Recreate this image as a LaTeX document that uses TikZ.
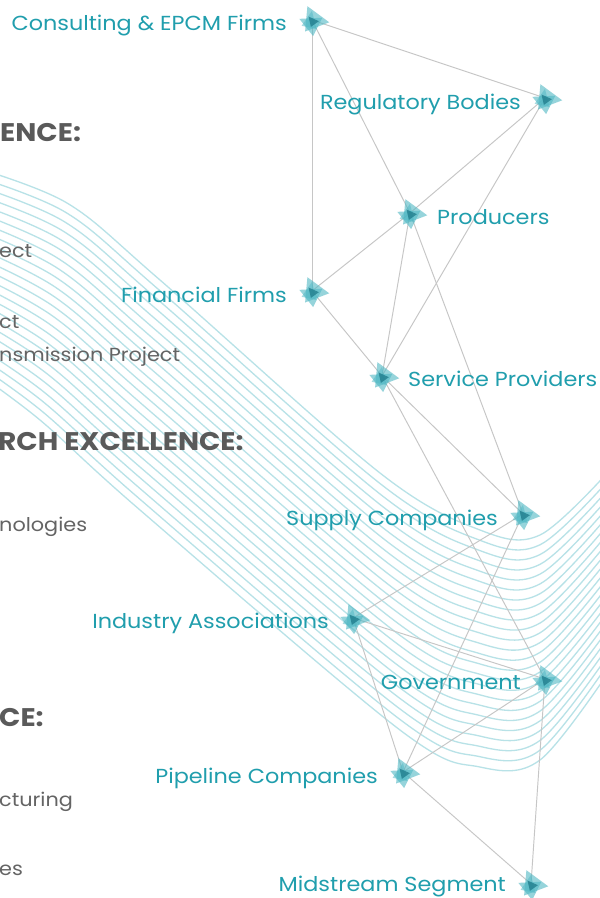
\documentclass[tikz,border=0pt]{standalone}
\usepackage{fontspec}
\setmainfont{Poppins}[FakeStretch=1.1]
\usetikzlibrary{calc}
\definecolor{teal1}{RGB}{80,184,196}
\definecolor{tealdark}{RGB}{30,122,138}
\definecolor{labelc}{RGB}{32,158,173}
\definecolor{wavec}{RGB}{184,226,231}
\definecolor{edgec}{RGB}{198,198,198}
\definecolor{grayt}{RGB}{100,100,100}
\definecolor{grayh}{RGB}{90,90,90}
\tikzset{
  wave/.style={draw=wavec, line width=1.3pt},
  link/.style={draw=edgec, line width=0.95pt},
  lbl/.style={text=labelc, font=\fontsize{20.3}{24}\selectfont, inner sep=0pt},
  body/.style={text=grayt, font=\fontsize{18.9}{22}\selectfont, inner sep=0pt, anchor=base west},
  head/.style={text=grayh, font=\fontsize{25.5}{28}\selectfont\bfseries, inner sep=0pt, anchor=base west},
  hub/.pic={
    \begin{scope}[scale=1.15]
    \fill[teal1, opacity=0.6] (-4,-12) -- (15,2) -- (-6,10) -- cycle;
    \fill[teal1, opacity=0.6] (-11,-1) -- (9,-2) -- (1,14) -- cycle;
    \fill[teal1, opacity=0.5] (-9,5) -- (0,-8) -- (4,8) -- cycle;
    \fill[tealdark, opacity=0.75] (-3,-3) -- (6,1) -- (-1,6) -- cycle;
    \end{scope}
  }
}
\begin{document}
\begin{tikzpicture}[x=1pt, y=-1pt]
\useasboundingbox (0,0) rectangle (600,898);
\fill[white] (0,0) rectangle (600,898);
% wave band
\begin{scope}
\clip (0,0) rectangle (600,898);
\foreach \i in {0,...,23}{
  \pgfmathsetmacro\f{\i/23}
  \draw[wave] plot[smooth, tension=0.55] coordinates {
    (-30, {166+202*\f})
    ({67-27*\f}, {203+217*\f})
    ({160-20*\f}, {280+230*\f})
    ({380+20*\f}, {473+257*\f})
    (480, {530+237*\f})
    (540, {535+225*\f})
    (610, {470+200*\f})
  };
}
\end{scope}
% hub coordinates
\coordinate (cons) at (312,20);
\coordinate (reg) at (545,98);
\coordinate (prod) at (410,213);
\coordinate (fin) at (312,291);
\coordinate (serv) at (382,376);
\coordinate (supp) at (523,514);
\coordinate (ind) at (353,618);
\coordinate (gov) at (545,679);
\coordinate (pipe) at (403,772);
\coordinate (mid) at (531,884);
% links
\draw[link] (cons) -- (reg);
\draw[link] (cons) -- (fin);
\draw[link] (cons) -- (prod);
\draw[link] (reg) -- (prod);
\draw[link] (reg) -- (serv);
\draw[link] (prod) -- (fin);
\draw[link] (prod) -- (serv);
\draw[link] (prod) -- (supp);
\draw[link] (fin) -- (serv);
\draw[link] (serv) -- (supp);
\draw[link] (serv) -- (gov);
\draw[link] (supp) -- (ind);
\draw[link] (supp) -- (pipe);
\draw[link] (ind) -- (gov);
\draw[link] (ind) -- (pipe);
\draw[link] (gov) -- (pipe);
\draw[link] (gov) -- (mid);
\draw[link] (pipe) -- (mid);
% hub icons
\foreach \h in {cons,reg,prod,fin,serv,supp,ind,gov,pipe,mid}{
  \pic at (\h) {hub};
}
% labels
\node[lbl, anchor=base east] (consL) at (287,30) {Consulting \& EPCM Firms};
\node[lbl, anchor=base east] (regL) at (521,109) {Regulatory Bodies};
\node[lbl, anchor=base west] (prodL) at (437,224) {Producers};
\node[lbl, anchor=base east] (finL) at (287,302) {Financial Firms};
\node[lbl, anchor=base west] (servL) at (408,386) {Service Providers};
\node[lbl, anchor=base east] (suppL) at (498,525) {Supply Companies};
\node[lbl, anchor=base east] (indL) at (329,628) {Industry Associations};
\node[lbl, anchor=base east] (govL) at (521,689) {Government};
\node[lbl, anchor=base east] (pipeL) at (378,783) {Pipeline Companies};
\node[lbl, anchor=base east] (midL) at (506,891) {Midstream Segment};
% left texts (clipped fragments)
\node[head] (h1) at (0,141) {ENCE:};
\node[body] (t1) at (-1,257) {ect};
\node[body] (t2) at (-1,328) {ct};
\node[body] (t3) at (-1,361) {nsmission Project};
\node[head] (h2) at (-2,450) {RCH EXCELLENCE:};
\node[body] (t4) at (-1,531) {nologies};
\node[head] (h3) at (-1,726) {CE:};
\node[body] (t5) at (-1,806) {cturing};
\node[body] (t6) at (-1,875) {es};
\end{tikzpicture}
\end{document}
